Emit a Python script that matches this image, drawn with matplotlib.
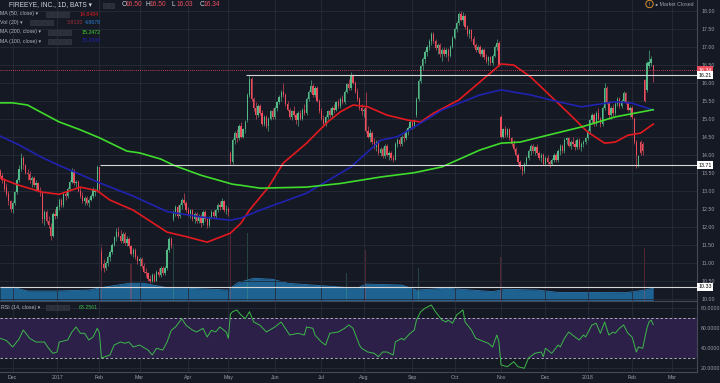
import numpy as np
import matplotlib
matplotlib.use('Agg')
import matplotlib.pyplot as plt
from matplotlib.patches import Rectangle

plt.rcParams['font.family'] = ['Liberation Sans', 'DejaVu Sans']

# daily candles, 22 Nov 2016 .. 15 Feb 2018 (one row per month)
opens = [
    13.55,13.4,13.3,13.1,12.9,12.7,12.5,12.65,12.95,13.3,13.6,13.9,13.7,13.5,13.45,13.3,13.35,13.15,13.2,13.0,12.95,12.2,12.4,12.15,12.0,11.75,12.35,
    12.3,12.55,12.75,12.6,12.9,12.85,13.05,13.25,13.55,13.2,13.25,13.0,12.85,12.7,12.8,12.65,12.75,12.85,12.95,13.0,
    13.65,11.3,10.95,10.85,11.0,11.15,11.3,11.5,11.7,11.85,11.75,11.6,11.8,11.55,11.65,11.45,11.25,11.35,11.15,
    11.05,11.1,10.9,10.75,10.7,10.55,10.5,10.65,10.5,10.75,10.65,10.85,10.7,10.85,11.35,11.65,12.2,12.4,12.55,12.3,12.6,12.75,12.65,
    12.45,12.35,12.45,12.2,12.35,12.15,12.3,12.1,12.4,12.2,12.05,12.25,12.4,12.3,12.45,12.6,12.55,12.7,12.45,
    12.5,14.05,13.8,14.4,14.6,14.45,14.8,14.5,14.7,14.95,15.65,16.1,15.55,15.3,15.1,15.35,15.15,14.85,15.05,14.8,15.0,15.2,
    15.05,15.3,15.45,15.6,15.75,15.65,15.4,15.25,15.05,15.2,15.1,14.95,15.15,15.0,15.25,15.15,15.55,15.75,15.9,15.65,15.85,15.5,
    15.2,15.0,14.85,15.05,15.2,15.1,15.3,15.25,15.45,15.35,15.55,15.45,15.75,15.95,15.85,16.2,16.0,15.75,15.55,15.3,
    15.2,15.3,14.65,14.5,14.6,14.35,14.2,14.35,14.05,14.15,13.95,14.25,14.0,14.05,13.9,13.85,14.3,14.4,14.3,14.5,14.45,14.65,14.75,
    14.9,14.8,15.1,15.55,16.05,16.45,16.65,16.85,17.0,17.15,17.35,17.15,16.95,17.05,16.8,16.9,16.8,16.9,16.75,17.0,
    17.25,17.5,17.65,17.9,17.75,17.85,17.55,17.35,17.45,17.2,17.05,16.9,17.0,16.8,16.9,16.7,16.6,16.7,16.55,16.75,17.0,17.1,
    15.05,14.5,14.7,14.55,14.7,14.45,14.3,14.15,14.0,13.8,13.65,13.55,13.75,13.9,14.1,14.25,14.1,14.2,14.05,13.9,14.0,
    13.75,13.9,13.8,13.75,13.85,14.0,13.85,14.1,14.25,14.1,14.4,14.45,14.25,14.35,14.3,14.2,14.4,14.2,14.3,14.35,
    14.45,14.65,14.95,15.1,14.85,15.15,15.0,14.85,15.3,15.85,15.45,15.1,15.3,15.15,15.4,15.55,15.35,15.5,15.7,15.45,15.25,
    15.3,15.0,14.35,13.7,14.35,14.3,16.07,15.8,16.45,16.55,16.5]
highs = [
    13.6,13.5,13.35,13.2,13.0,12.75,12.7,13.0,13.35,13.7,14.05,13.95,13.75,13.6,13.55,13.4,13.4,13.3,13.25,13.1,13.0,12.45,12.45,12.3,12.1,12.4,12.5,
    12.6,12.8,12.8,12.95,13.0,13.1,13.3,13.62,13.6,13.3,13.3,13.1,12.95,12.85,12.85,12.8,12.9,13.1,13.05,13.7,
    13.67,11.4,11.1,11.05,11.2,11.35,11.55,11.75,11.95,12.0,11.9,11.85,11.85,11.75,11.7,11.5,11.4,11.4,11.2,
    11.15,11.15,11.0,10.85,10.75,10.65,10.7,10.7,10.8,10.85,10.9,10.9,10.9,11.4,11.7,11.7,12.45,12.6,12.6,12.65,12.8,12.93,12.7,
    12.55,12.5,12.5,12.4,12.4,12.35,12.35,12.45,12.45,12.25,12.3,12.45,12.45,12.5,12.65,12.7,12.8,12.75,12.6,
    12.55,14.1,14.45,14.65,14.7,14.85,14.9,14.75,14.95,15.7,16.2,16.15,15.6,15.45,15.4,15.4,15.25,15.1,15.1,15.05,15.25,15.3,
    15.35,15.5,15.65,15.8,15.99,15.7,15.5,15.3,15.25,15.35,15.15,15.2,15.25,15.3,15.4,15.6,15.8,16.07,15.95,15.9,15.9,15.55,
    15.3,15.1,15.1,15.25,15.3,15.35,15.4,15.5,15.55,15.6,15.65,15.8,16.0,16.1,16.3,16.25,16.05,15.85,15.6,15.4,
    15.3,15.75,14.8,14.7,14.65,14.45,14.4,14.4,14.2,14.2,14.3,14.3,14.1,14.1,14.0,14.35,14.45,14.5,14.55,14.6,14.7,14.8,14.95,
    14.95,15.0,15.6,16.1,16.5,16.7,16.9,17.05,17.2,17.41,17.4,17.2,17.1,17.1,16.95,17.0,16.95,16.95,17.05,17.3,
    17.55,17.7,17.95,18.0,17.95,17.9,17.6,17.5,17.5,17.3,17.1,17.05,17.05,16.95,16.95,16.8,16.75,16.75,16.8,17.05,17.2,17.15,
    15.1,14.75,14.8,14.75,14.75,14.5,14.4,14.2,14.05,13.85,13.7,13.8,13.95,14.15,14.3,14.3,14.25,14.3,14.1,14.05,14.05,
    13.95,14.0,13.85,13.9,14.05,14.05,14.15,14.3,14.3,14.45,14.5,14.5,14.4,14.48,14.4,14.45,14.45,14.35,14.4,14.5,
    14.7,15.0,15.15,15.15,15.2,15.3,15.05,15.35,15.99,15.9,15.5,15.35,15.4,15.45,15.6,15.6,15.55,15.78,15.75,15.5,15.35,
    15.35,15.05,14.4,14.0,14.4,14.35,16.1,16.6,16.9,16.75,16.5]
lows = [
    13.35,13.2,13.0,12.85,12.6,12.4,12.38,12.6,12.9,13.25,13.55,13.6,13.45,13.3,13.2,13.1,13.1,13.0,12.95,12.85,12.1,12.05,12.1,11.95,11.63,11.7,12.2,
    12.25,12.45,12.55,12.55,12.75,12.8,13.0,13.2,13.15,13.1,12.95,12.8,12.65,12.6,12.6,12.55,12.7,12.8,12.85,12.95,
    13.0,10.8,10.75,10.8,10.9,11.05,11.25,11.45,11.6,11.7,11.55,11.55,11.5,11.45,11.4,11.2,11.15,11.1,10.95,
    10.9,10.85,10.7,10.6,10.5,10.43,10.45,10.45,10.48,10.6,10.6,10.65,10.65,10.8,11.3,11.4,12.15,12.3,12.25,12.25,12.5,12.6,12.4,
    12.3,12.25,12.15,12.1,12.1,12.1,12.0,12.05,12.15,11.95,12.0,12.2,12.2,12.25,12.4,12.45,12.5,12.4,12.35,
    12.3,13.7,13.75,14.3,14.35,14.4,14.45,14.45,14.6,14.9,15.6,15.5,15.2,15.0,15.05,15.1,14.8,14.8,14.75,14.65,14.95,15.0,
    15.0,15.2,15.4,15.5,15.6,15.35,15.2,15.0,14.95,15.05,14.85,14.8,14.95,14.95,15.1,15.1,15.5,15.7,15.6,15.6,15.45,15.15,
    14.95,14.77,14.8,15.0,15.05,15.05,15.15,15.2,15.3,15.3,15.4,15.4,15.7,15.8,15.8,15.95,15.7,15.5,15.25,15.1,
    15.05,14.6,14.45,14.35,14.3,14.15,14.1,14.0,13.95,13.9,13.9,13.95,13.85,13.85,13.8,13.85,14.2,14.25,14.25,14.35,14.4,14.55,14.7,
    14.7,14.75,15.05,15.5,16.0,16.35,16.55,16.75,16.9,17.05,17.1,16.9,16.8,16.7,16.6,16.75,16.7,16.6,16.7,16.95,
    17.2,17.4,17.6,17.7,17.6,17.5,17.3,17.25,17.15,17.0,16.85,16.85,16.75,16.7,16.65,16.55,16.5,16.5,16.5,16.7,16.9,16.45,
    14.45,14.45,14.5,14.5,14.4,14.25,14.1,13.95,13.75,13.6,13.44,13.5,13.7,13.85,14.0,14.05,14.0,14.0,13.85,13.8,13.7,
    13.7,13.75,13.65,13.7,13.8,13.8,13.8,14.0,14.05,14.05,14.3,14.2,14.15,14.25,14.12,14.15,14.15,14.1,14.2,14.3,
    14.4,14.6,14.85,14.8,14.8,14.95,14.78,14.8,15.25,15.4,15.0,15.0,15.05,15.1,15.35,15.3,15.3,15.45,15.4,15.2,15.05,
    15.0,14.3,13.62,13.65,13.98,14.0,15.45,15.75,16.4,16.45,16.03]
closes = [
    13.4,13.3,13.05,12.9,12.7,12.5,12.65,12.95,13.3,13.6,13.9,13.7,13.5,13.45,13.3,13.35,13.15,13.2,13.0,12.95,12.2,12.4,12.15,12.05,11.75,12.35,12.3,
    12.55,12.75,12.6,12.9,12.85,13.05,13.25,13.55,13.2,13.25,13.0,12.85,12.7,12.8,12.65,12.75,12.85,13.05,13.0,13.65,
    13.05,10.95,10.85,11.0,11.15,11.3,11.5,11.7,11.85,11.75,11.6,11.8,11.55,11.65,11.45,11.25,11.35,11.15,11.05,
    11.1,10.9,10.75,10.7,10.55,10.5,10.65,10.5,10.75,10.65,10.85,10.7,10.85,11.35,11.65,11.5,12.4,12.55,12.3,12.6,12.75,12.65,12.45,
    12.35,12.45,12.2,12.35,12.15,12.3,12.1,12.4,12.2,12.05,12.25,12.4,12.3,12.45,12.6,12.55,12.7,12.45,12.5,
    12.4,13.8,14.4,14.6,14.45,14.8,14.5,14.7,14.9,15.65,16.1,15.55,15.3,15.1,15.35,15.15,14.85,15.05,14.8,15.0,15.2,15.05,
    15.3,15.45,15.6,15.75,15.65,15.4,15.25,15.05,15.2,15.1,14.95,15.15,15.0,15.25,15.15,15.55,15.75,15.9,15.65,15.85,15.5,15.2,
    15.0,14.85,15.05,15.2,15.1,15.3,15.25,15.45,15.35,15.55,15.45,15.75,15.95,15.85,16.2,16.0,15.75,15.55,15.3,15.2,
    15.25,14.65,14.5,14.6,14.35,14.2,14.35,14.05,14.15,13.95,14.25,14.0,14.05,13.9,13.85,14.3,14.4,14.3,14.5,14.45,14.65,14.75,14.9,
    14.8,14.95,15.55,16.05,16.45,16.65,16.85,17.0,17.15,17.35,17.15,16.95,17.05,16.8,16.9,16.8,16.9,16.75,17.0,17.25,
    17.5,17.65,17.9,17.75,17.85,17.55,17.35,17.45,17.2,17.05,16.9,17.0,16.8,16.9,16.7,16.6,16.7,16.55,16.75,17.0,17.1,16.5,
    14.5,14.7,14.55,14.7,14.45,14.3,14.15,14.0,13.8,13.65,13.55,13.75,13.9,14.1,14.25,14.1,14.2,14.05,13.9,14.0,13.75,
    13.9,13.8,13.75,13.85,14.0,13.85,14.1,14.25,14.1,14.4,14.45,14.25,14.35,14.3,14.2,14.4,14.2,14.3,14.35,14.45,
    14.65,14.95,15.1,14.85,15.15,15.0,14.85,15.3,15.85,15.45,15.1,15.3,15.15,15.4,15.55,15.35,15.5,15.7,15.45,15.25,15.3,
    15.05,14.35,13.98,13.95,14.05,14.1,15.5,16.55,16.58,16.65,16.34]

# moving averages (trading-day index, value)
ma50_idx = [0,9,20,28,38,46,52,63,79,89,98,109,114,118,127,134,145,155,161,167,174,183,193,199,205,217,227,237,243,251,259,269,278,286,291,297,303,309]
ma50_val = [13.35,13.15,12.96,12.9,13.1,13.0,12.74,12.46,11.85,11.71,11.57,11.82,12.1,12.46,13.1,13.77,14.32,14.91,15.19,15.38,15.33,15.1,14.96,14.91,15.15,15.52,16.02,16.52,16.49,16.16,15.71,15.15,14.63,14.32,14.35,14.54,14.6,14.85]
ma100_idx = [0,9,19,28,38,47,63,79,95,109,114,123,145,166,180,188,196,209,227,237,251,264,275,291,299,309]
ma100_val = [14.52,14.27,13.95,13.7,13.45,13.22,12.85,12.42,12.27,12.18,12.24,12.46,12.93,13.66,14.4,14.5,14.77,15.24,15.66,15.8,15.66,15.47,15.33,15.47,15.43,15.24]
ma200_idx = [0,6,13,19,28,38,47,60,66,76,82,95,110,114,123,145,161,180,196,209,227,237,246,259,275,291,309]
ma200_val = [15.44,15.44,15.38,15.19,14.91,14.69,14.47,14.1,14.05,13.88,13.71,13.43,13.18,13.15,13.07,13.1,13.2,13.38,13.5,13.66,14.13,14.32,14.35,14.54,14.77,15.05,15.25]

# volume (millions): 20-day average and the spikes that show above it
volma_idx = [0,6,13,26,42,49,61,68,78,100,108,112,120,129,136,148,169,173,190,197,211,233,239,254,264,296,305,309]
volma_val = [5.25,5.25,3.83,3.83,4.2,5.25,6.8,6.8,5.25,4.5,4.2,6.8,8.7,8.3,6.8,6.1,4.9,6.5,6.1,4.2,4.9,3.6,4.5,4.2,3.3,3.2,4.2,4.87]
vol_idx = [48,62,82,109,117,164,173,198,237,305]
vol_val = [22,14.6,22,26,26,10.7,19.5,12.6,16.9,20.3]

# RSI(14)
rsi_idx = [0,3,6,9,11,14,17,21,23,25,27,28,32,34,36,38,40,42,44,46,47,48,52,54,57,59,61,63,66,70,
           72,74,77,79,81,83,86,88,91,93,96,98,100,102,104,107,108,109,110,112,114,116,118,120,123,126,130,133,134,137,
           141,144,145,148,149,152,154,156,160,163,165,167,170,171,174,177,179,181,183,186,187,190,191,194,196,197,199,201,204,206,
           209,211,212,214,216,218,219,220,223,225,227,231,233,235,236,237,240,243,245,248,250,253,256,257,258,261,264,265,267,269,
           272,274,276,277,280,282,284,286,288,290,291,293,295,297,299,301,302,304,306,307,308,309]
rsi_val = [49.7,47.5,41,49,58,49.7,46,46,39.7,34.7,36,46,48,56,61,54.7,54.7,48,51,59.7,55,30,33,43,46,44.7,46,41,43,38,
           33,39.7,38,46,57.7,61,69.3,62.7,58,56,59.7,51,57.7,56,61,56,49.7,74,76.3,78,73,69.3,76.3,66,62.7,56,61,66,62.7,53,
           54.7,53,61,59.7,53,46,43,54.7,56,59.7,63,59.7,43,39.7,36,34.7,31.3,36,36,33,46,49.7,48,54.7,58,68,76.3,79.7,83,76.3,
           68,66,68,64.7,73,76.3,78,66,58,49.7,48,44.7,41,53,46,23,21.3,26.3,21.3,19.7,30,34.7,36,31.3,39.7,34.7,43,41,49.7,56,
           51,48,53,51,63,64.7,54.7,66,53,56,54.7,59.7,63,54.7,51,36,41,39.7,59.7,66,68,63.26]

month_idx = [6,27,47,66,89,108,130,152,172,195,215,237,258,278,299,318]
month_lab = ['Dec','2017','Feb','Mar','Apr','May','Jun','Jul','Aug','Sep','Oct','Nov','Dec','2018','Feb','Mar']

# drawn horizontal levels: (price, first day index)
levels = [(16.21, 116.5), (13.71, 47.3), (10.33, -1)]
last_price = 16.34

bg = '#151924'
grid_c = '#272c39'
up_c = '#53b987'
dn_c = '#eb4d5c'
txt_c = '#9a9da6'

W, H = 720, 383
fig = plt.figure(figsize=(7.2, 3.83), dpi=100, facecolor=bg)
ax = fig.add_axes([0, 1 - 301 / H, 697 / W, 301 / H])
axr = fig.add_axes([0, 1 - 372 / H, 697 / W, 70 / H])
axv = ax.twinx()
axv.set_zorder(ax.get_zorder() - 1)
ax.patch.set_visible(False)
axv.patch.set_facecolor(bg)

xmin, xmax = -0.01, 329.7
for a in (ax, axr, axv):
    a.set_xlim(xmin, xmax)
ax.set_ylim(9.936, 18.297)
axv.set_ylim(0, 115.3)
axr.set_ylim(16, 86)

o = np.array(opens); h = np.array(highs); l = np.array(lows); c = np.array(closes)
idx = np.arange(len(c))
col = np.where(c >= o, up_c, dn_c)

# volume
axv.fill_between(volma_idx, 0, volma_val, color='#1e6292', lw=0)
axv.plot(volma_idx, volma_val, color='#2b78b0', lw=0.6)
vcol = [col[i] for i in vol_idx]
axv.bar(vol_idx, vol_val, width=0.6, color=vcol, alpha=0.28, lw=0)
axv.set_yticks([])
for s in axv.spines.values():
    s.set_visible(False)

# grid
ax.set_xticks(month_idx)
ax.set_yticks(np.arange(10, 18.01, 0.5))
ax.grid(True, color=grid_c, lw=0.6)
ax.set_axisbelow(True)

# candles
ax.vlines(idx, l, h, colors=col, lw=0.45, zorder=3)
body = np.maximum(np.abs(c - o), 0.02)
ax.bar(idx, body, bottom=np.minimum(o, c), width=0.62, color=col, lw=0, zorder=3)

# moving averages
ax.plot(ma50_idx, ma50_val, color='#e3191f', lw=1.2, zorder=4)
ax.plot(ma100_idx, ma100_val, color='#1f23b0', lw=1.2, zorder=4)
ax.plot(ma200_idx, ma200_val, color='#3fdc2c', lw=1.2, zorder=4)

# level lines
for p, start in levels:
    ax.hlines(p, max(start, xmin), xmax, color='#d6d6d6', lw=0.8, zorder=5)
ax.axhline(last_price, color=dn_c, lw=0.6, ls=(0, (1, 1.5)), zorder=5)

ax.yaxis.tick_right()
ax.yaxis.set_major_formatter(matplotlib.ticker.FormatStrFormatter('%.2f'))
ax.tick_params(axis='y', length=0, pad=3, labelsize=3.8, labelcolor=txt_c)
ax.tick_params(axis='x', length=0, labelbottom=False)
for k, s in ax.spines.items():
    s.set_visible(k in ('bottom', 'right'))
    s.set_color('#454a57')
    s.set_linewidth(0.8)

# price tags on the scale
tags = [(last_price, '16.34', dn_c, 'white')] + [(p, '%.2f' % p, 'white', 'black') for p, _ in levels]
for p, t, fc, tc in tags:
    ax.text(1.002, p, t, transform=ax.get_yaxis_transform(), ha='left', va='center',
            fontsize=3.8, color=tc, clip_on=False, zorder=10,
            bbox=dict(boxstyle='square,pad=0.3', fc=fc, ec='none'))

# RSI pane
axr.patch.set_facecolor(bg)
axr.axhspan(30, 70, color='#2c2049', lw=0)
axr.set_xticks(month_idx, month_lab)
axr.set_yticks([20, 40, 60, 80], ['20.0000', '40.0000', '60.0000', '80.0000'])
axr.grid(True, color=grid_c, lw=0.6)
axr.set_axisbelow(True)
for lv in (70, 30):
    axr.axhline(lv, color='#c0c0cc', lw=0.6, ls=(0, (3, 2.5)))
axr.plot(rsi_idx, rsi_val, color='#3db84a', lw=0.7)
axr.yaxis.tick_right()
axr.tick_params(axis='y', length=0, pad=3, labelsize=3.8, labelcolor=txt_c)
axr.tick_params(axis='x', length=0, pad=2.5, labelsize=3.8, labelcolor=txt_c)
for k, s in axr.spines.items():
    s.set_visible(k in ('bottom', 'right'))
    s.set_color('#454a57')
    s.set_linewidth(0.8)


def ftxt(x, y, s, **kw):
    fig.text(x / W, 1 - y / H, s, va='center', ha='left', **kw)


def icons(x, y, n):
    for k in range(n):
        fig.patches.append(Rectangle(((x + k * 6) / W, 1 - (y + 2.5) / H), 5 / W, 5 / H,
                                     transform=fig.transFigure, fc='#2a2e39', ec='#3a3f4c', lw=0.4))


leg = '#b2b5be'
ftxt(9, 5, 'FIREEYE, INC., 1D, BATS \u25be', fontsize=4.8, color='#d1d4dc')
icons(103, 5, 2)
for x, lab, val in [(121.5, 'O', '16.50'), (145, 'H', '16.50'), (172, 'L', '16.03'), (199.5, 'C', '16.34')]:
    ftxt(x, 5, lab, fontsize=4.8, color='#d1d4dc')
    ftxt(x + 4.2, 5, val, fontsize=4.8, color=dn_c)

rows = [(14, 'MA (50, close) \u25be', 4, [(80, '14.8484', '#e3191f')]),
        (22.7, 'Vol (20) \u25be', 4, [(67, '3.8120', '#a03038'), (85, '4.8678', '#2d7fd0')]),
        (32, 'MA (200, close) \u25be', 4, [(82, '15.2472', '#3fdc2c')]),
        (41, 'MA (100, close) \u25be', 4, [(82, '15.2600', '#1f23b0')])]
for y, lab, n, vals in rows:
    ftxt(0.5, y, lab, fontsize=3.8, color=leg)
    icons(vals[0][0] - 34 if len(vals) == 1 else 30, y, n)
    for x, v, cc in vals:
        ftxt(x, y, v, fontsize=3.8, color=cc)

ftxt(1, 307.5, 'RSI (14, close) \u25be', fontsize=3.8, color=leg)
icons(46, 307.5, 4)
ftxt(79, 307.5, '63.2561', fontsize=3.8, color='#3db84a')

fig.text(649.5 / W, 1 - 4 / H, '!', fontsize=3.5, color='#f0a030', ha='center', va='center',
         bbox=dict(boxstyle='circle,pad=0.25', fc=bg, ec='#f0a030', lw=0.6))
ftxt(655, 4, '\u25cf Market Closed', fontsize=3.8, color=txt_c)

fig.savefig('out.png', dpi=100, facecolor=bg)
